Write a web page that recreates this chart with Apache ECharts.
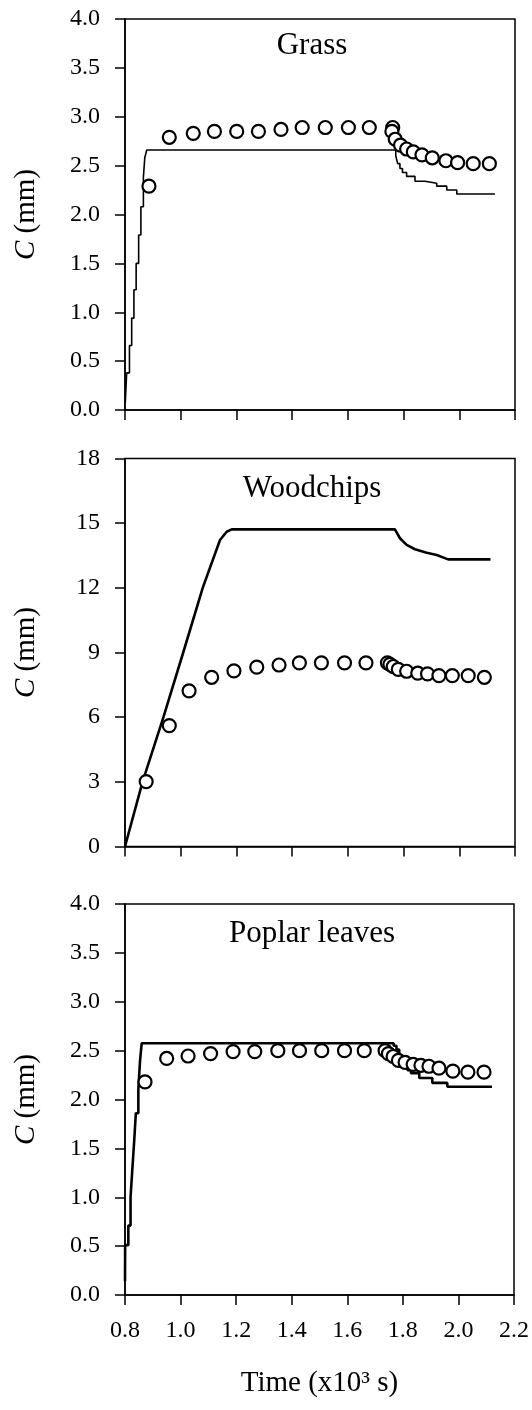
<!DOCTYPE html>
<html>
<head>
<meta charset="utf-8">
<script src="https://cdn.jsdelivr.net/npm/echarts@6/dist/echarts.min.js"></script>
<style>
html,body{margin:0;padding:0;background:#fff;}
#chart{width:532px;height:1410px;}
</style>
</head>
<body>
<div id="chart"></div>
<script>
// ---- tick labels ----
const timeTicks = [0.8, 1.0, 1.2, 1.4, 1.6, 1.8, 2.0, 2.2];
const grassYTicks = [0, 0.5, 1.0, 1.5, 2.0, 2.5, 3.0, 3.5, 4.0];
const woodYTicks = [0, 3, 6, 9, 12, 15, 18];
const poplarYTicks = [0, 0.5, 1.0, 1.5, 2.0, 2.5, 3.0, 3.5, 4.0];
const panelTitles = ['Grass', 'Woodchips', 'Poplar leaves'];

// ---- Grass ----
const grassObsT = [0.886, 0.959, 1.045, 1.121, 1.201, 1.279, 1.360, 1.436, 1.519, 1.602, 1.677, 1.761, 1.758, 1.770, 1.789, 1.811, 1.835, 1.866, 1.903, 1.952, 1.994, 2.050, 2.108];
const grassObsC = [2.29, 2.79, 2.83, 2.85, 2.85, 2.85, 2.87, 2.89, 2.89, 2.89, 2.89, 2.89, 2.85, 2.77, 2.71, 2.67, 2.64, 2.61, 2.58, 2.55, 2.53, 2.52, 2.52];
const grassModT = [0.801, 0.806, 0.816, 0.824, 0.832, 0.840, 0.849, 0.857, 0.866, 0.871, 0.878, 1.772, 1.779, 1.787, 1.796, 1.811, 1.841, 1.877, 1.919, 1.955, 1.991, 2.128];
const grassModC = [0.07, 0.38, 0.66, 0.94, 1.23, 1.50, 1.79, 2.08, 2.38, 2.58, 2.66, 2.60, 2.52, 2.47, 2.43, 2.39, 2.34, 2.32, 2.29, 2.25, 2.21, 2.21];

// ---- Woodchips ----
const woodObsT = [0.876, 0.959, 1.030, 1.111, 1.191, 1.273, 1.353, 1.426, 1.505, 1.588, 1.665, 1.742, 1.751, 1.763, 1.781, 1.811, 1.851, 1.886, 1.927, 1.975, 2.032, 2.090];
const woodObsC = [3.01, 5.61, 7.22, 7.85, 8.15, 8.32, 8.42, 8.52, 8.52, 8.52, 8.52, 8.52, 8.45, 8.35, 8.22, 8.13, 8.04, 8.01, 7.93, 7.93, 7.93, 7.85];
const woodModT = [0.800, 0.863, 0.938, 1.009, 1.079, 1.141, 1.165, 1.183, 1.769, 1.787, 1.811, 1.841, 1.883, 1.919, 1.960, 2.112];
const woodModC = [0.0, 3.0, 6.0, 9.0, 12.0, 14.22, 14.6, 14.71, 14.71, 14.3, 13.99, 13.79, 13.63, 13.52, 13.32, 13.32];

// ---- Poplar leaves ----
const poplarObsT = [0.872, 0.950, 1.027, 1.108, 1.189, 1.267, 1.350, 1.428, 1.508, 1.590, 1.661, 1.736, 1.748, 1.765, 1.784, 1.808, 1.837, 1.865, 1.894, 1.930, 1.980, 2.034, 2.092];
const poplarObsC = [2.18, 2.42, 2.445, 2.47, 2.49, 2.49, 2.50, 2.50, 2.50, 2.50, 2.50, 2.50, 2.47, 2.44, 2.40, 2.38, 2.36, 2.35, 2.34, 2.32, 2.29, 2.28, 2.28];
const poplarModT = [0.800, 0.8005, 0.812, 0.820, 0.826, 0.833, 0.839, 0.848, 0.854, 0.860, 1.767, 1.777, 1.787, 1.796, 1.805, 1.817, 1.829, 1.859, 1.906, 1.960, 2.121];
const poplarModC = [0.14, 0.51, 0.71, 1.00, 1.27, 1.57, 1.86, 2.10, 2.39, 2.575, 2.55, 2.51, 2.45, 2.39, 2.34, 2.30, 2.27, 2.22, 2.17, 2.13, 2.13];

const FONT = "'Liberation Serif', 'Times New Roman', serif";
const zip = (a, b) => a.map((v, i) => [v, b[i]]);

const grids = [
  {left: 125, top: 19, width: 390, height: 391},
  {left: 125, top: 458.5, width: 390, height: 388},
  {left: 125, top: 904, width: 390, height: 391}
].map(g => Object.assign(g, {show: true, borderColor: '#000', borderWidth: 1.5, backgroundColor: 'transparent', containLabel: false}));

const axisLineStyle = {lineStyle: {color: '#000', width: 1.5}};
function makeX(i, showLabels) {
  return {
    type: 'value', gridIndex: i,
    min: timeTicks[0], max: timeTicks[timeTicks.length - 1],
    interval: +(timeTicks[1] - timeTicks[0]).toFixed(3),
    axisLine: Object.assign({show: true, onZero: false}, axisLineStyle),
    axisTick: {show: true, inside: false, length: 10, lineStyle: {color: '#000', width: 1.5}},
    splitLine: {show: false},
    axisLabel: {show: showLabels, color: '#000', fontFamily: FONT, fontSize: 24, margin: 24,
      formatter: v => v.toFixed(1)},
    name: showLabels ? 'Time (x10³ s)' : '',
    nameLocation: 'middle', nameGap: 74,
    nameTextStyle: {color: '#000', fontFamily: FONT, fontSize: 29}
  };
}
function makeY(i, ticks, decimals) {
  return {
    type: 'value', gridIndex: i,
    min: ticks[0], max: ticks[ticks.length - 1],
    interval: +(ticks[1] - ticks[0]).toFixed(3),
    axisLine: Object.assign({show: true, onZero: false}, axisLineStyle),
    axisTick: {show: true, inside: false, length: 10, lineStyle: {color: '#000', width: 1.5}},
    splitLine: {show: false},
    axisLabel: {color: '#000', fontFamily: FONT, fontSize: 24, margin: 25,
      formatter: v => v.toFixed(decimals)},
    name: '{i|C} (mm)',
    nameLocation: 'middle', nameRotate: 90, nameGap: 84,
    nameTextStyle: {color: '#000', fontFamily: FONT, fontSize: 29,
      rich: {i: {fontStyle: 'italic', fontFamily: FONT, fontSize: 29, color: '#000'}}}
  };
}

function modelSeries(i, t, c, width, step) {
  return {type: 'line', xAxisIndex: i, yAxisIndex: i, data: zip(t, c), step: step,
    showSymbol: false, symbol: 'none', lineStyle: {color: '#000', width: width}, z: 2, silent: true, animation: false};
}
function obsSeries(i, t, c) {
  return {type: 'scatter', xAxisIndex: i, yAxisIndex: i, data: zip(t, c),
    symbol: 'circle', symbolSize: 13,
    itemStyle: {color: '#fff', borderColor: '#000', borderWidth: 2.2, opacity: 1}, z: 3, silent: true, animation: false};
}

const titleY = [46, 489, 934];
const option = {
  backgroundColor: '#fff',
  animation: false,
  grid: grids,
  xAxis: [makeX(0, false), makeX(1, false), makeX(2, true)],
  yAxis: [makeY(0, grassYTicks, 1), makeY(1, woodYTicks, 0), makeY(2, poplarYTicks, 1)],
  graphic: panelTitles.map((txt, i) => ({
    type: 'text', x: 312, y: titleY[i], silent: true,
    style: {text: txt, font: '31px ' + FONT, fill: '#000', align: 'center', verticalAlign: 'middle'}
  })),
  series: [
    modelSeries(0, grassModT, grassModC, 1.6, 'end'),
    obsSeries(0, grassObsT, grassObsC),
    modelSeries(1, woodModT, woodModC, 2.6, false),
    obsSeries(1, woodObsT, woodObsC),
    modelSeries(2, poplarModT, poplarModC, 2.6, 'end'),
    obsSeries(2, poplarObsT, poplarObsC)
  ]
};

const chart = echarts.init(document.getElementById('chart'), null, {renderer: 'canvas'});
chart.setOption(option);
</script>
</body>
</html>
